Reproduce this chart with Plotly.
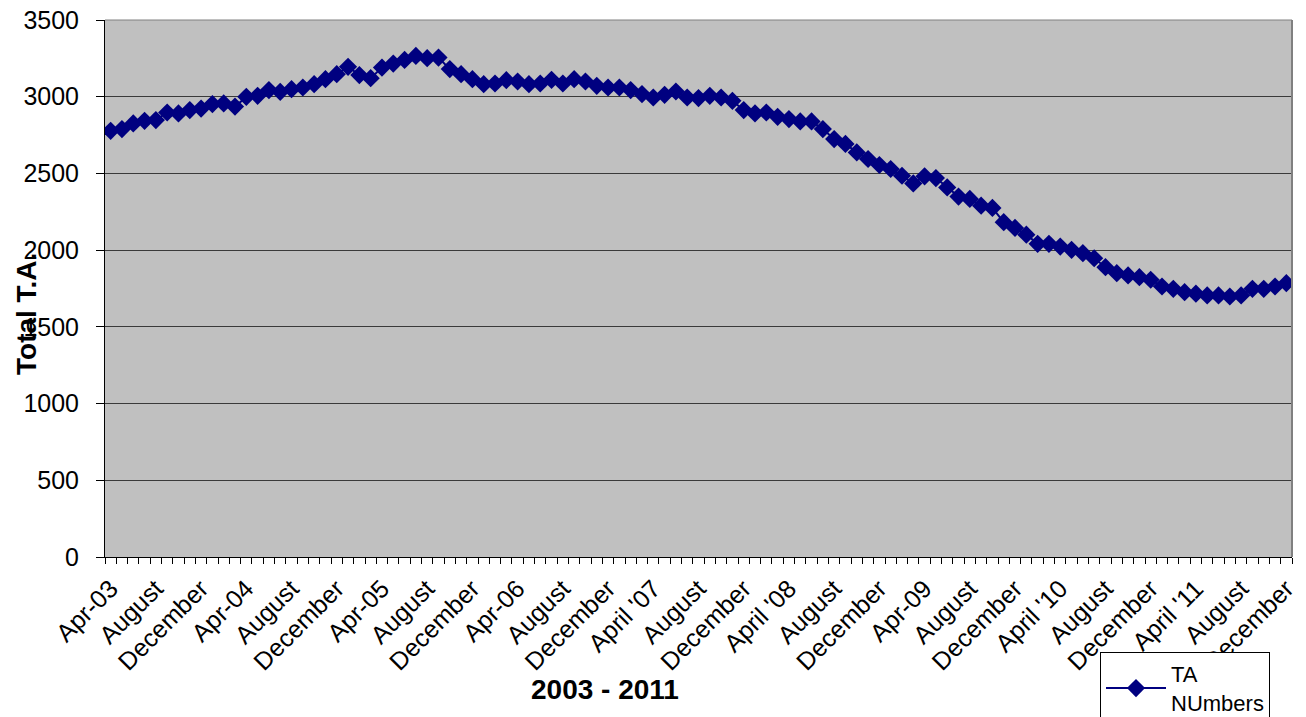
import plotly.graph_objects as go

# Monthly totals, April 2003 - December 2011
ta_values = [
    2778, 2789, 2826, 2843, 2848, 2897, 2891, 2913, 2923, 2952, 2956, 2936,
    2999, 3006, 3043, 3032, 3049, 3060, 3082, 3114, 3147, 3195, 3141, 3121,
    3190, 3216, 3240, 3266, 3251, 3255, 3180, 3147, 3114, 3082, 3086, 3108,
    3099, 3082, 3086, 3110, 3086, 3114, 3099, 3071, 3060, 3060, 3043, 3017,
    2995, 3012, 3034, 2995, 2991, 3006, 2995, 2973, 2913, 2891, 2897, 2869,
    2854, 2839, 2839, 2789, 2724, 2692, 2637, 2594, 2555, 2529, 2485, 2435,
    2481, 2470, 2409, 2349, 2334, 2290, 2275, 2182, 2145, 2101, 2041, 2041,
    2023, 2002, 1980, 1947, 1889, 1850, 1835, 1824, 1807, 1763, 1748, 1726,
    1716, 1705, 1705, 1698, 1705, 1748, 1748, 1763, 1785,
]

# Axis labels shown every fourth month
tick_labels = [
    "Apr-03", "August", "December", "Apr-04", "August", "December",
    "Apr-05", "August", "December", "Apr-06", "August", "December",
    "April '07", "August", "December", "April '08", "August", "December",
    "Apr-09", "August", "December", "April '10", "August", "December",
    "April '11", "August", "December",
]
label_step = 4

months = list(range(len(ta_values)))
tick_positions = months[::label_step]

font_family = "Liberation Sans, Arial, sans-serif"

fig = go.Figure()
fig.add_trace(go.Scatter(
    x=months, y=ta_values, mode="lines+markers",
    name="TA<br>NUmbers",
    line=dict(color="#000080", width=2),
    marker=dict(symbol="diamond", size=14, color="#000080"),
))

fig.update_layout(
    width=1306, height=717,
    margin=dict(l=105, r=14, t=20, b=160, autoexpand=False),
    paper_bgcolor="white",
    plot_bgcolor="#C0C0C0",
    font=dict(family=font_family, size=25, color="black"),
    showlegend=True,
    legend=dict(
        xref="paper", yref="container",
        x=(1100 - 105) / 1187, y=(717 - 652) / 717,
        xanchor="left", yanchor="top",
        bgcolor="white", bordercolor="black", borderwidth=1,
        font=dict(size=22), itemwidth=60, tracegroupgap=0,
    ),
    xaxis=dict(
        range=[-0.5, len(ta_values) - 0.5],
        tickmode="array", tickvals=tick_positions, ticktext=tick_labels,
        tickangle=-45, ticks="", showgrid=False, zeroline=False,
        showline=True, linecolor="black", linewidth=1,
        tickfont=dict(size=25), automargin=False, ticklabelstandoff=6,
        minor=dict(ticks="outside", tick0=-0.5, dtick=1, ticklen=6,
                   tickcolor="black", showgrid=False),
    ),
    yaxis=dict(
        range=[0, 3500], dtick=500, tick0=0,
        ticks="outside", ticklen=8, tickcolor="black",
        showgrid=True, gridcolor="#3a3a3a", gridwidth=1,
        zeroline=False, showline=True, linecolor="black", linewidth=1,
        tickfont=dict(size=25), ticklabelstandoff=12, automargin=False,
    ),
)

# top and right border of plot area
fig.add_shape(type="line", xref="paper", yref="paper", x0=1, x1=1, y0=0, y1=1,
              line=dict(color="#808080", width=2))
fig.add_shape(type="line", xref="paper", yref="paper", x0=0, x1=1, y0=1, y1=1,
              line=dict(color="#808080", width=1))

fig.add_annotation(
    text="<b>Total T.A.</b>", textangle=-90,
    xref="paper", yref="paper",
    x=(26 - 105) / 1187, y=(557 - 314) / 537,
    xanchor="center", yanchor="middle",
    showarrow=False, font=dict(size=28, family=font_family),
)
fig.add_annotation(
    text="<b>2003 - 2011</b>",
    xref="paper", yref="paper",
    x=(605 - 105) / 1187, y=(557 - 689) / 537,
    xanchor="center", yanchor="middle",
    showarrow=False, font=dict(size=28, family=font_family),
)

fig.write_html("out.html")
